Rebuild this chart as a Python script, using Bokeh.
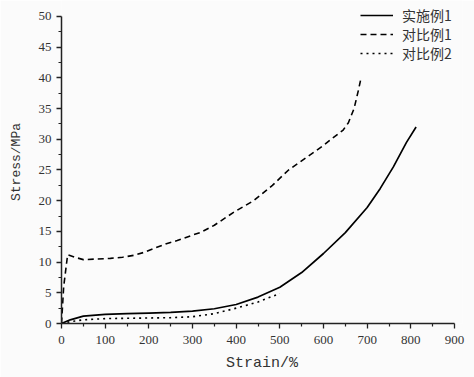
from bokeh.plotting import figure
from bokeh.models import Legend, LegendItem, FixedTicker
from bokeh.embed import file_html
from bokeh.resources import INLINE

# 实施例1 (solid)
ex1_strain = [0, 20, 50, 100, 150, 200, 250, 300, 350, 400, 450, 500, 550, 600, 650, 700, 730, 760, 790, 812]
ex1_stress = [0, 0.6, 1.2, 1.5, 1.6, 1.7, 1.8, 2.0, 2.4, 3.1, 4.3, 5.9, 8.3, 11.4, 14.8, 18.9, 22.0, 25.5, 29.5, 32.0]
# 对比例1 (dashed)
cmp1_strain = [0, 5, 14, 30, 50, 80, 112, 140, 165, 190, 211, 240, 265, 300, 318, 350, 394, 440, 483, 520, 560, 600, 623, 645, 657, 670, 680, 686]
cmp1_stress = [0, 6.0, 11.2, 10.8, 10.4, 10.5, 10.6, 10.8, 11.1, 11.6, 12.2, 13.0, 13.5, 14.4, 14.8, 16.0, 18.1, 20.0, 22.5, 25.0, 27.0, 29.0, 30.3, 31.5, 32.7, 35.0, 38.0, 40.0]
# 对比例2 (dotted)
cmp2_strain = [0, 20, 50, 100, 150, 200, 250, 300, 350, 400, 450, 500]
cmp2_stress = [0, 0.3, 0.6, 0.8, 0.85, 0.9, 0.95, 1.1, 1.6, 2.5, 3.5, 4.9]

labels = ["实施例1", "对比例1", "对比例2"]
x_ticks = [0, 100, 200, 300, 400, 500, 600, 700, 800, 900]
y_ticks = [0, 5, 10, 15, 20, 25, 30, 35, 40, 45, 50]

p = figure(width=474, height=377, output_backend="svg", toolbar_location=None,
           x_range=(0, 918.3), y_range=(0, 52.6),
           min_border_left=61, min_border_right=12, min_border_top=0, min_border_bottom=54)
p.outline_line_color = None
p.background_fill_color = "#fbfbfb"
p.border_fill_color = "#fbfbfb"
p.grid.visible = False

serif = "Liberation Serif"
for ax in (p.xaxis[0], p.yaxis[0]):
    ax.axis_line_width = 1.5
    ax.axis_line_color = "#222222"
    ax.major_tick_line_color = "#222222"
    ax.minor_tick_line_color = "#222222"
    ax.major_tick_line_width = 1.3
    ax.minor_tick_line_width = 1.2
    ax.major_tick_in = 0
    ax.major_tick_out = 5
    ax.minor_tick_in = 0
    ax.minor_tick_out = 3
    ax.major_label_text_font = serif
    ax.major_label_text_font_size = "13px"
    ax.major_label_text_color = "#333333"
    ax.axis_label_text_font = "Liberation Mono"
    ax.axis_label_text_font_style = "normal"
    ax.axis_label_text_color = "#333333"

p.xaxis.bounds = (0, 900)
p.yaxis.bounds = (0, 50)
p.xaxis.axis_label_text_font_size = "15px"
p.yaxis.axis_label_text_font_size = "13px"
p.xaxis.ticker = FixedTicker(ticks=x_ticks, minor_ticks=[v + 50 for v in x_ticks[:-1]])
p.yaxis.ticker = FixedTicker(ticks=y_ticks, minor_ticks=[v + 2.5 for v in y_ticks[:-1]])
p.xaxis.axis_label = "Strain/%"
p.yaxis.axis_label = "Stress/MPa"
p.xaxis.major_label_standoff = 7
p.yaxis.major_label_standoff = 5
p.xaxis.axis_label_standoff = 8
p.yaxis.axis_label_standoff = 12

r1 = p.line(ex1_strain, ex1_stress, line_color="black", line_width=1.7)
r2 = p.line(cmp1_strain, cmp1_stress, line_color="black", line_width=1.6, line_dash="6 4")
r3 = p.line(cmp2_strain, cmp2_stress, line_color="black", line_width=1.6, line_dash="2 4")

# one legend per row so that the row pitch matches the reference
for lab, rend, yoff in zip(labels, [r1, r2, r3], [298, 279, 260]):
    lg = Legend(items=[LegendItem(label=lab, renderers=[rend])],
                location=(299, yoff), padding=0, margin=0, spacing=0,
                label_height=18, glyph_height=18, glyph_width=33, label_standoff=9,
                border_line_color=None, background_fill_alpha=0,
                label_text_font="Noto Sans CJK SC", label_text_font_size="14px",
                label_text_line_height=1.0,
                label_text_color="#333333")
    p.add_layout(lg)

open("out.html", "w").write(file_html(p, INLINE))
